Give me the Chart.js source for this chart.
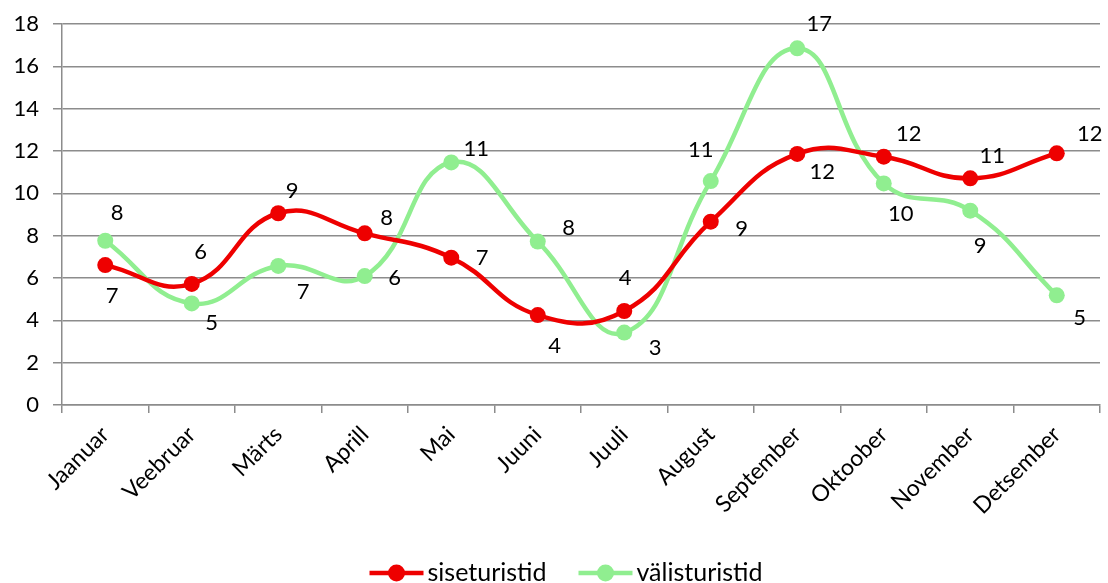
<!DOCTYPE html>
<html>
<head>
<meta charset="utf-8">
<script src="https://cdn.jsdelivr.net/npm/chart.js@4.4.0/dist/chart.umd.min.js"></script>
<style>
  html, body { margin: 0; padding: 0; background: #fff; }
  #wrap { width: 1108px; height: 583px; }
</style>
</head>
<body>
<div id="wrap"><canvas id="graafik"></canvas></div>
<script>
const kuud = ['Jaanuar', 'Veebruar', 'Märts', 'Aprill', 'Mai', 'Juuni', 'Juuli', 'August', 'September', 'Oktoober', 'November', 'Detsember'];
const siseturistid = [6.61, 5.72, 9.06, 8.11, 6.96, 4.25, 4.44, 8.66, 11.86, 11.73, 10.71, 11.89];
const valisturistid = [7.76, 4.80, 6.57, 6.09, 11.46, 7.72, 3.42, 10.58, 16.85, 10.47, 9.18, 5.18];
const yTicks = [0, 2, 4, 6, 8, 10, 12, 14, 16, 18];

// sildi nihked punkti suhtes (px)
const siseNihe = [[7, 31], [9, -32], [14, -22], [22, -15], [31, 0], [17, 31], [1, -33], [31, 7], [25, 18], [25, -23], [22, -22], [33, -19]];
const valisNihe = [[12, -28], [20, 20], [25, 26], [30, 2], [25, -14], [31, -14], [31, 15], [-10, -31], [22, -24], [17, 31], [10, 35], [23, 23]];

const PUNANE = '#ee0000';
const ROHELINE = '#90ee90';
const FONT = 'Lato, "Open Sans", sans-serif';

const sildid = {
  id: 'sildid',
  afterDatasetsDraw(chart) {
    const ctx = chart.ctx;
    ctx.save();
    ctx.font = '22px ' + FONT;
    ctx.fillStyle = '#000';
    ctx.textAlign = 'center';
    ctx.textBaseline = 'middle';
    [siseNihe, valisNihe].forEach((nihe, i) => {
      const meta = chart.getDatasetMeta(i);
      const andmed = chart.data.datasets[i].data;
      meta.data.forEach((p, j) => {
        ctx.fillText(Math.round(andmed[j]), p.x + nihe[j][0], p.y + nihe[j][1]);
      });
    });
    ctx.restore();
  }
};

// legend: joon + ring + tekst, keskel all
const legend = {
  id: 'legendAll',
  afterDraw(chart) {
    const ctx = chart.ctx;
    const sets = chart.data.datasets;
    ctx.save();
    ctx.font = '25px ' + FONT;
    const markW = 54, gap = 4, vahe = 32;
    const laiused = sets.map(d => markW + gap + ctx.measureText(d.label).width);
    const kokku = laiused.reduce((a, b) => a + b, 0) + vahe * (sets.length - 1);
    let x = 566 - kokku / 2;
    const y = 573;
    sets.forEach((d, i) => {
      ctx.strokeStyle = d.borderColor;
      ctx.lineWidth = 4.5;
      ctx.beginPath(); ctx.moveTo(x, y); ctx.lineTo(x + markW, y); ctx.stroke();
      ctx.fillStyle = d.borderColor;
      ctx.beginPath(); ctx.arc(x + markW / 2, y, 8.5, 0, Math.PI * 2); ctx.fill();
      ctx.fillStyle = '#000';
      ctx.textBaseline = 'middle';
      ctx.fillText(d.label, x + markW + gap, y);
      x += laiused[i] + vahe;
    });
    ctx.restore();
  }
};

new Chart(document.getElementById('graafik'), {
  type: 'line',
  data: {
    labels: kuud,
    datasets: [{
      label: 'siseturistid',
      data: siseturistid,
      borderColor: PUNANE,
      backgroundColor: PUNANE,
      borderWidth: 4.5,
      pointRadius: 8,
      pointHoverRadius: 8,
      pointBorderWidth: 0,
      tension: 0.45
    }, {
      label: 'välisturistid',
      data: valisturistid,
      borderColor: ROHELINE,
      backgroundColor: ROHELINE,
      borderWidth: 4.5,
      pointRadius: 8,
      pointHoverRadius: 8,
      pointBorderWidth: 0,
      tension: 0.45
    }]
  },
  options: {
    responsive: true,
    maintainAspectRatio: false,
    animation: false,
    layout: { padding: { top: 10, right: 4, left: 0, bottom: 0 } },
    plugins: {
      tooltip: { enabled: false },
      legend: { display: false }
    },
    scales: {
      x: {
        offset: true,
        afterFit(scale) {
          scale.height = 178;
          scale.paddingLeft = 0;
          scale.paddingRight = 0;
        },
        grid: { display: true, drawOnChartArea: false, drawTicks: true, tickLength: 8, offset: true, color: '#8c8c8c', lineWidth: 1.5 },
        border: { color: '#8c8c8c', width: 1.5 },
        ticks: { color: '#000', font: { family: FONT, size: 23 }, maxRotation: 45, minRotation: 45, padding: 8, autoSkip: false }
      },
      y: {
        min: 0,
        max: 18,
        afterBuildTicks(scale) { scale.ticks = yTicks.map(v => ({ value: v })); },
        afterFit(scale) {
          scale.width = 62;
          scale.paddingTop = 24;
          scale.paddingBottom = 0;
        },
        grid: { color: '#8c8c8c', lineWidth: 1.5, tickLength: 9 },
        border: { color: '#8c8c8c', width: 1.5 },
        ticks: { color: '#000', font: { family: FONT, size: 22 }, padding: 14 }
      }
    }
  },
  plugins: [sildid, legend]
});
</script>
</body>
</html>
